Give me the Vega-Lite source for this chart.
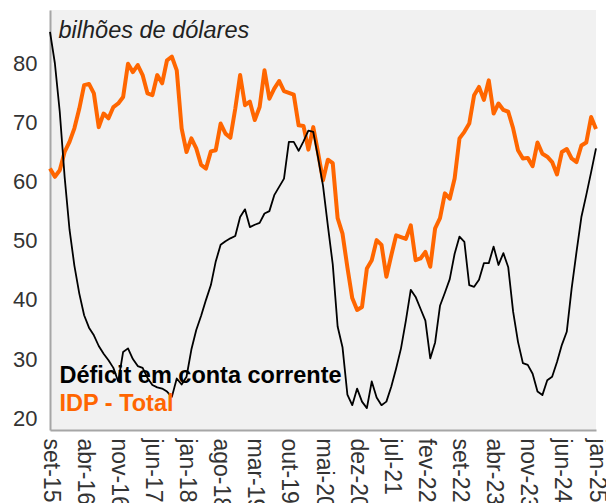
{
  "$schema": "https://vega.github.io/schema/vega-lite/v6.json",
  "width": 546,
  "height": 420,
  "autosize": "none",
  "padding": {"left": 50, "top": 10, "right": 10, "bottom": 73},
  "background": "white",
  "config": {
    "view": {"fill": "#f1f1f1", "stroke": null},
    "font": "Liberation Sans"
  },
  "data": {
    "values": [
      {"m": "set-15", "cc": 85.3, "idp": 62.2},
      {"m": "out-15", "cc": 80.0, "idp": 60.8},
      {"m": "nov-15", "cc": 71.8, "idp": 61.9},
      {"m": "dez-15", "cc": 60.8, "idp": 65.0},
      {"m": "jan-16", "cc": 51.9, "idp": 66.7},
      {"m": "fev-16", "cc": 45.8, "idp": 69.0},
      {"m": "mar-16", "cc": 41.1, "idp": 72.3},
      {"m": "abr-16", "cc": 37.4, "idp": 76.3},
      {"m": "mai-16", "cc": 35.3, "idp": 76.5},
      {"m": "jun-16", "cc": 34.0, "idp": 74.9},
      {"m": "jul-16", "cc": 32.2, "idp": 69.2},
      {"m": "ago-16", "cc": 30.9, "idp": 71.5},
      {"m": "set-16", "cc": 29.8, "idp": 70.7},
      {"m": "out-16", "cc": 28.5, "idp": 72.6},
      {"m": "nov-16", "cc": 26.2, "idp": 73.2},
      {"m": "dez-16", "cc": 31.2, "idp": 74.3},
      {"m": "jan-17", "cc": 31.8, "idp": 79.9},
      {"m": "fev-17", "cc": 30.0, "idp": 78.5},
      {"m": "mar-17", "cc": 28.8, "idp": 79.7},
      {"m": "abr-17", "cc": 28.5, "idp": 78.0},
      {"m": "mai-17", "cc": 26.8, "idp": 74.9},
      {"m": "jun-17", "cc": 25.6, "idp": 74.6},
      {"m": "jul-17", "cc": 25.2, "idp": 78.0},
      {"m": "ago-17", "cc": 25.0, "idp": 76.6},
      {"m": "set-17", "cc": 24.5, "idp": 80.5},
      {"m": "out-17", "cc": 23.6, "idp": 81.1},
      {"m": "nov-17", "cc": 26.7, "idp": 78.8},
      {"m": "dez-17", "cc": 25.7, "idp": 69.0},
      {"m": "jan-18", "cc": 27.0, "idp": 65.0},
      {"m": "fev-18", "cc": 31.6, "idp": 67.3},
      {"m": "mar-18", "cc": 34.9, "idp": 65.6},
      {"m": "abr-18", "cc": 37.3, "idp": 62.8},
      {"m": "mai-18", "cc": 40.0, "idp": 62.2},
      {"m": "jun-18", "cc": 42.5, "idp": 65.1},
      {"m": "jul-18", "cc": 46.5, "idp": 65.3},
      {"m": "ago-18", "cc": 49.3, "idp": 69.8},
      {"m": "set-18", "cc": 49.9, "idp": 68.1},
      {"m": "out-18", "cc": 50.4, "idp": 67.4},
      {"m": "nov-18", "cc": 50.8, "idp": 72.3},
      {"m": "dez-18", "cc": 54.0, "idp": 78.0},
      {"m": "jan-19", "cc": 55.3, "idp": 72.9},
      {"m": "fev-19", "cc": 52.3, "idp": 73.5},
      {"m": "mar-19", "cc": 52.7, "idp": 70.4},
      {"m": "abr-19", "cc": 53.0, "idp": 72.6},
      {"m": "mai-19", "cc": 54.6, "idp": 78.8},
      {"m": "jun-19", "cc": 55.0, "idp": 74.0},
      {"m": "jul-19", "cc": 57.7, "idp": 75.7},
      {"m": "ago-19", "cc": 59.1, "idp": 77.0},
      {"m": "set-19", "cc": 60.5, "idp": 75.3},
      {"m": "out-19", "cc": 66.7, "idp": 75.0},
      {"m": "nov-19", "cc": 66.7, "idp": 74.7},
      {"m": "dez-19", "cc": 65.2, "idp": 69.5},
      {"m": "jan-20", "cc": 66.8, "idp": 69.4},
      {"m": "fev-20", "cc": 68.6, "idp": 65.4},
      {"m": "mar-20", "cc": 68.4, "idp": 69.2},
      {"m": "abr-20", "cc": 64.0, "idp": 64.8},
      {"m": "mai-20", "cc": 59.3, "idp": 60.2},
      {"m": "jun-20", "cc": 52.5, "idp": 63.7},
      {"m": "jul-20", "cc": 46.0, "idp": 63.1},
      {"m": "ago-20", "cc": 35.5, "idp": 53.8},
      {"m": "set-20", "cc": 32.0, "idp": 51.2},
      {"m": "out-20", "cc": 24.0, "idp": 45.5},
      {"m": "nov-20", "cc": 22.2, "idp": 40.3},
      {"m": "dez-20", "cc": 25.0, "idp": 38.3},
      {"m": "jan-21", "cc": 22.8, "idp": 38.8},
      {"m": "fev-21", "cc": 21.7, "idp": 45.3},
      {"m": "mar-21", "cc": 26.2, "idp": 46.7},
      {"m": "abr-21", "cc": 23.5, "idp": 50.1},
      {"m": "mai-21", "cc": 22.2, "idp": 49.3},
      {"m": "jun-21", "cc": 22.8, "idp": 43.9},
      {"m": "jul-21", "cc": 25.3, "idp": 47.5},
      {"m": "ago-21", "cc": 28.4, "idp": 50.9},
      {"m": "set-21", "cc": 31.8, "idp": 50.6},
      {"m": "out-21", "cc": 36.5, "idp": 50.3},
      {"m": "nov-21", "cc": 41.7, "idp": 52.6},
      {"m": "dez-21", "cc": 40.5, "idp": 46.7},
      {"m": "jan-22", "cc": 38.5, "idp": 47.0},
      {"m": "fev-22", "cc": 36.5, "idp": 48.1},
      {"m": "mar-22", "cc": 30.1, "idp": 45.6},
      {"m": "abr-22", "cc": 32.8, "idp": 52.1},
      {"m": "mai-22", "cc": 39.0, "idp": 53.8},
      {"m": "jun-22", "cc": 41.2, "idp": 58.0},
      {"m": "jul-22", "cc": 43.5, "idp": 57.1},
      {"m": "ago-22", "cc": 47.8, "idp": 60.5},
      {"m": "set-22", "cc": 50.7, "idp": 67.3},
      {"m": "out-22", "cc": 49.8, "idp": 68.4},
      {"m": "nov-22", "cc": 42.5, "idp": 69.8},
      {"m": "dez-22", "cc": 42.2, "idp": 74.6},
      {"m": "jan-23", "cc": 43.4, "idp": 76.0},
      {"m": "fev-23", "cc": 46.2, "idp": 73.8},
      {"m": "mar-23", "cc": 46.2, "idp": 77.1},
      {"m": "abr-23", "cc": 49.0, "idp": 71.5},
      {"m": "mai-23", "cc": 45.9, "idp": 73.2},
      {"m": "jun-23", "cc": 47.9, "idp": 72.1},
      {"m": "jul-23", "cc": 45.5, "idp": 71.8},
      {"m": "ago-23", "cc": 38.0, "idp": 69.0},
      {"m": "set-23", "cc": 32.9, "idp": 65.3},
      {"m": "out-23", "cc": 29.3, "idp": 63.9},
      {"m": "nov-23", "cc": 29.0, "idp": 64.0},
      {"m": "dez-23", "cc": 27.5, "idp": 62.6},
      {"m": "jan-24", "cc": 24.5, "idp": 66.6},
      {"m": "fev-24", "cc": 23.9, "idp": 64.7},
      {"m": "mar-24", "cc": 26.4, "idp": 64.2},
      {"m": "abr-24", "cc": 27.0, "idp": 63.3},
      {"m": "mai-24", "cc": 29.5, "idp": 61.2},
      {"m": "jun-24", "cc": 32.4, "idp": 65.0},
      {"m": "jul-24", "cc": 34.6, "idp": 65.5},
      {"m": "ago-24", "cc": 41.9, "idp": 63.9},
      {"m": "set-24", "cc": 48.1, "idp": 63.3},
      {"m": "out-24", "cc": 54.0, "idp": 66.1},
      {"m": "nov-24", "cc": 57.7, "idp": 66.6},
      {"m": "dez-24", "cc": 61.6, "idp": 70.9},
      {"m": "jan-25", "cc": 65.6, "idp": 68.9}
    ]
  },
  "encoding": {
    "x": {
      "field": "m",
      "type": "ordinal",
      "sort": null,
      "scale": {"type": "point", "padding": 0},
      "axis": {
        "values": ["set-15", "abr-16", "nov-16", "jun-17", "jan-18", "ago-18", "mar-19", "out-19", "mai-20", "dez-20", "jul-21", "fev-22", "set-22", "abr-23", "nov-23", "jun-24", "jan-25"],
        "title": null,
        "labelAngle": 90,
        "labelAlign": "left",
        "labelBaseline": "middle",
        "ticks": false,
        "grid": false,
        "domainColor": "#a6a6a6",
        "domainWidth": 2,
        "labelFontSize": 23,
        "labelColor": "#333333",
        "labelPadding": 8,
        "labelOverlap": false,
        "labelBound": false,
        "labelFlush": false
      }
    }
  },
  "layer": [
    {
      "mark": {"type": "line", "strokeWidth": 4, "strokeJoin": "round"},
      "encoding": {
        "y": {
          "field": "idp",
          "type": "quantitative",
          "title": "bilhões de dólares",
          "scale": {"domain": [18, 89], "nice": false, "zero": false},
          "axis": {
            "values": [20, 30, 40, 50, 60, 70, 80],
            "grid": false,
            "ticks": false,
            "domainColor": "#a6a6a6",
            "domainWidth": 2,
            "labelFontSize": 22,
            "labelColor": "#333333",
            "labelPadding": 13,
            "titleAngle": 0,
            "titleX": 8,
            "titleY": 27,
            "titleAlign": "left",
            "titleBaseline": "alphabetic",
            "titleFontStyle": "italic",
            "titleFontWeight": "normal",
            "titleFontSize": 23.5,
            "titleColor": "#222222"
          }
        },
        "color": {
          "datum": "IDP - Total",
          "type": "nominal",
          "scale": {"domain": ["Déficit em conta corrente", "IDP - Total"], "range": ["#000000", "#ff6600"]},
          "legend": {
            "orient": "none",
            "legendX": -14,
            "legendY": 354,
            "title": null,
            "symbolSize": 0,
            "symbolOpacity": 0,
            "symbolStrokeWidth": 0,
            "labelOffset": 0,
            "labelFontSize": 23.5,
            "labelFontWeight": "bold",
            "labelLimit": 500,
            "rowPadding": 3,
            "padding": 0,
            "encode": {
              "labels": {
                "update": {
                  "fill": {"signal": "datum.value === 'IDP - Total' ? '#ff6600' : '#000000'"}
                }
              }
            }
          }
        }
      }
    },
    {
      "mark": {"type": "line", "strokeWidth": 1.8, "strokeJoin": "round"},
      "encoding": {
        "y": {"field": "cc", "type": "quantitative", "title": "bilhões de dólares"},
        "color": {"datum": "Déficit em conta corrente", "type": "nominal"}
      }
    }
  ]
}
